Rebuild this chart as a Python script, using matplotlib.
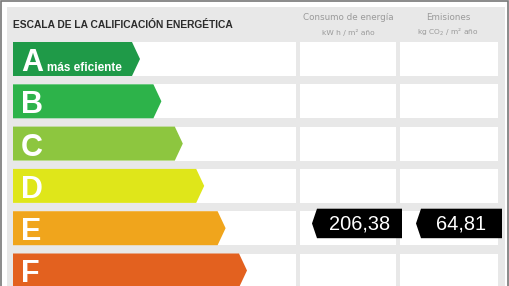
import matplotlib
matplotlib.use('Agg')
import matplotlib.pyplot as plt
from matplotlib.patches import Polygon, Rectangle
from matplotlib import font_manager

# rating classes and the values shown on the label
classes = ['A', 'B', 'C', 'D', 'E', 'F']
class_colors = ['#1f9a48', '#2db34a', '#8dc63f', '#dfe61a', '#f0a51c', '#e3611f']
rating = 'E'
consumo = '206,38'
emisiones = '64,81'

names = set(f.name for f in font_manager.fontManager.ttflist)
narrow = 'Liberation Sans Narrow' if 'Liberation Sans Narrow' in names else 'Liberation Sans'

fig = plt.figure(figsize=(5.1, 2.86), dpi=100)
ax = fig.add_axes([0, 0, 1, 1])
ax.set_xlim(0, 510)
ax.set_ylim(286, 0)
ax.axis('off')

# outer frame and panel
ax.add_patch(Rectangle((0.5, 0.5), 508, 290, fc='white', ec='#777777', lw=1.2))
ax.add_patch(Rectangle((7, 7), 498, 290, fc='#e8e8e8', ec='none'))

ax.text(13, 25, 'ESCALA DE LA CALIFICACIÓN ENERGÉTICA', family=narrow, weight='bold',
        fontsize=7.4, color='#2b2b2b', va='center', ha='left')
ax.text(348, 18, 'Consumo de energía', fontsize=6.3, color='#9a9a9a', ha='center', va='center')
ax.text(348, 32, 'kW h / m² año', fontsize=5.4, color='#9a9a9a', ha='center', va='center')
ax.text(448, 18, 'Emisiones', fontsize=6.3, color='#9a9a9a', ha='center', va='center')
ax.text(448, 32, 'kg CO$_2$ / m² año', fontsize=5.4, color='#9a9a9a', ha='center', va='center')

top0 = 42
pitch = 42.3
h = 34
for i, (c, col) in enumerate(zip(classes, class_colors)):
    y0 = top0 + i * pitch
    ym = y0 + h / 2
    # white cells
    ax.add_patch(Rectangle((13, y0), 283, h, fc='white', ec='none'))
    ax.add_patch(Rectangle((300, y0), 96, h, fc='white', ec='none'))
    ax.add_patch(Rectangle((400, y0), 98, h, fc='white', ec='none'))
    tip = 140 + i * 21.4
    ax.add_patch(Polygon([(13, y0), (tip - 8, y0), (tip, ym), (tip - 8, y0 + h), (13, y0 + h)],
                         closed=True, fc=col, ec='none'))
    ax.text(21, ym + 12, c, family=narrow, weight='bold', fontsize=22, color='white',
            ha='left', va='baseline')
    if c == 'A':
        ax.text(47, ym + 12, 'más eficiente', weight='bold', fontsize=8.5, color='white',
                ha='left', va='baseline', family=narrow)
    if c == rating:
        ty0 = y0 - 2.5
        ty1 = y0 + 27
        tm = (ty0 + ty1) / 2
        for x_tip, x_end, txt in [(312, 402, consumo), (416, 502, emisiones)]:
            ax.add_patch(Polygon([(x_tip + 5, ty0), (x_end, ty0), (x_end, ty1), (x_tip + 5, ty1),
                                  (x_tip, tm)], closed=True, fc='black', ec='none'))
            ax.text((x_tip + 5 + x_end) / 2, tm + 0.5, txt, family='Liberation Sans',
                    fontsize=14.4, color='white', ha='center', va='center')

fig.savefig('out.png', dpi=100)
